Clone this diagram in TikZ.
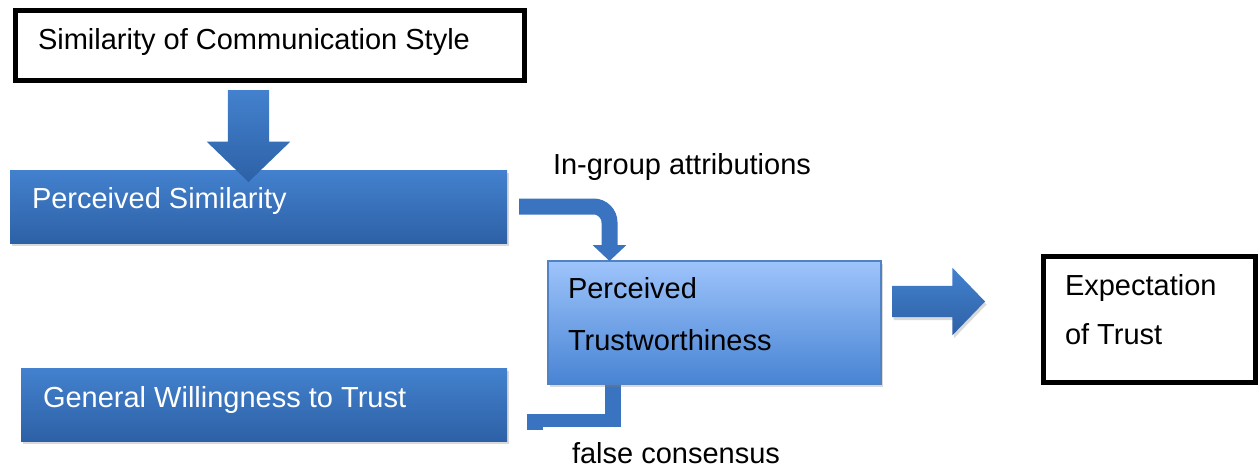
\documentclass[tikz,border=0pt]{standalone}
\usepackage{fontspec}
\setmainfont{Liberation Sans}
\usetikzlibrary{shapes.arrows,positioning,calc,shadows,backgrounds,arrows.meta}

\definecolor{boxtop}{RGB}{67,129,206}
\definecolor{boxbot}{RGB}{45,97,166}
\definecolor{trusttop}{RGB}{158,196,251}
\definecolor{trustbot}{RGB}{72,132,212}
\definecolor{trustedge}{RGB}{80,130,196}
\definecolor{bendblue}{RGB}{58,116,192}

\begin{document}
\begin{tikzpicture}[x=1pt, y=-1pt,
    every node/.style={font=\fontsize{29}{35}\selectfont, inner sep=0pt, outer sep=0pt},
    frame/.style={rectangle, anchor=north west, draw=black, line width=5pt},
    bluebox/.style={rectangle, anchor=north west, top color=boxtop, bottom color=boxbot,
        drop shadow={opacity=0.3, shadow xshift=1.5pt, shadow yshift=-3pt}},
    trustbox/.style={rectangle, anchor=north west, top color=trusttop, bottom color=trustbot,
        draw=trustedge, line width=1.5pt,
        drop shadow={opacity=0.3, shadow xshift=1.5pt, shadow yshift=-3pt}},
    blockarrow/.style={single arrow, anchor=tail, single arrow head extend=#1, single arrow tip angle=92,
        top color=boxtop, bottom color=boxbot},
    bent/.style={draw=bendblue, line width=16pt},
    lbl/.style={anchor=base west},
    multi/.style={anchor=north west, align=left}]
    \useasboundingbox (0,0) rectangle (1258,469);

    % Top box
    \node[frame, minimum width=509pt, minimum height=70pt] (simtop) at (15.5,10.5) {};
    \node[lbl] (simtoptext) at (38,49) {Similarity of Communication Style};

    % Blue boxes
    \node[bluebox, minimum width=497pt, minimum height=73pt] (simbox) at (10,170) {};
    \node[lbl, text=white] (simtext) at (32,208) {Perceived Similarity};

    \node[bluebox, minimum width=486pt, minimum height=73pt] (gen) at (21,368) {};
    \node[lbl, text=white] (gentext) at (43,407) {General Willingness to Trust};

    % Down arrow, over the box top
    \node[blockarrow=21pt, rotate=-90, inner ysep=20.5pt, minimum height=92pt, minimum width=83pt]
        (simarrow) at (248.5,90) {};

    % Middle box
    \node[trustbox, minimum width=333pt, minimum height=123pt] (trust) at (548,261) {};
    \node[multi, font=\fontsize{29}{52}\selectfont] (trusttext) at (568,277) {Perceived\\Trustworthiness};

    % Right arrow and result
    \node[blockarrow=18pt, inner ysep=15.5pt, minimum height=93pt, minimum width=67pt,
        drop shadow={opacity=0.3, shadow xshift=1.5pt, shadow yshift=-3pt}] (trustarrow) at (892,301.5) {};
    \node[frame, minimum width=212pt, minimum height=126pt] (expect) at (1043.5,256.5) {};
    \node[multi, font=\fontsize{29}{49}\selectfont] (expecttext) at (1065,274) {Expectation\\of Trust};

    % Bent connectors
    \draw[bent, rounded corners=16pt, -{Triangle[width=33pt,length=16pt]}]
        ($(simbox.east)+(12,0)$) -| ($(trust.north west)+(61.5,0)$);
    \begin{scope}[on background layer]
        \draw[bent] ($(gen.east)+(20,17)$) -| ($(trust.south west)+(65,-12)$);
    \end{scope}

    % Labels
    \node[lbl] (ingroup) at (553,174) {In-group attributions};
    \node[anchor=north west, fill=white, inner xsep=29pt, text height=36pt, text depth=7pt]
        (falsecons) at (543,427) {false consensus};
\end{tikzpicture}
\end{document}
